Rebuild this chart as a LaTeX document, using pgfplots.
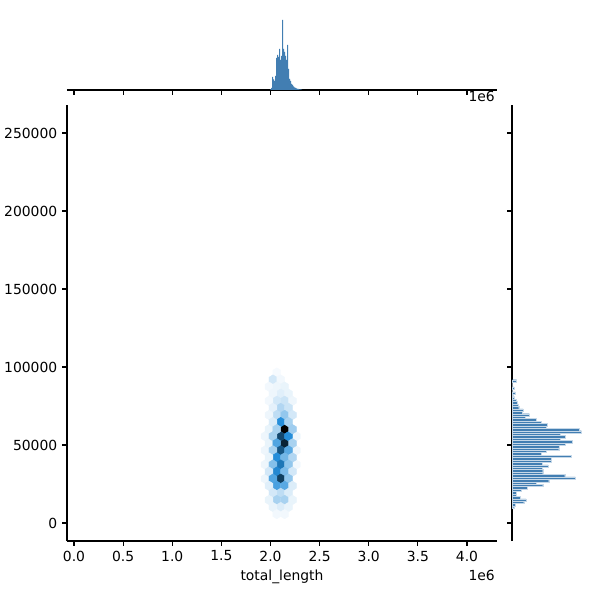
\documentclass[border=0pt]{standalone}
\usepackage{fontspec}
\setmainfont{DejaVu Sans}
\usepackage{pgfplots}
\pgfplotsset{compat=1.18}

\definecolor{histblue}{RGB}{66,126,178}
\pgfplotsset{colormap={hexblues}{rgb=(1,1,1) rgb=(0.829,0.911,0.971) rgb=(0.658,0.823,0.942) rgb=(0.487,0.734,0.913) rgb=(0.316,0.645,0.884) rgb=(0.145,0.555,0.855) rgb=(0.116,0.445,0.684) rgb=(0.087,0.334,0.513) rgb=(0.058,0.223,0.342) rgb=(0.029,0.111,0.171) rgb=(0,0,0)}}

\pgfdeclareplotmark{hexa}{%
  \pgfpathmoveto{\pgfqpoint{2.815pt}{-1.70pt}}%
  \pgfpathlineto{\pgfqpoint{2.815pt}{1.70pt}}%
  \pgfpathlineto{\pgfqpoint{0pt}{3.40pt}}%
  \pgfpathlineto{\pgfqpoint{-2.815pt}{1.70pt}}%
  \pgfpathlineto{\pgfqpoint{-2.815pt}{-1.70pt}}%
  \pgfpathlineto{\pgfqpoint{0pt}{-3.40pt}}%
  \pgfpathclose\pgfusepathqfillstroke}

\pgfplotsset{
  mpl/.style={
    scale only axis,
    anchor=south west,
    axis line style={line width=0.8pt, black},
    tick style={line width=0.8pt, black},
    major tick length=3.5pt,
    tick align=outside,
    ticklabel style={font=\fontsize{10}{12}\selectfont},
    /pgf/number format/assume math mode=true,
    scaled x ticks=false, scaled y ticks=false,
  }
}

\begin{document}
\begin{tikzpicture}
\useasboundingbox (0pt,0pt) rectangle (432pt,432pt);

% main hexbin axis
\begin{axis}[mpl,
  at={(48.24pt,42.48pt)}, width=309.6pt, height=313.92pt,
  xmin=-0.0712, xmax=4.305, ymin=-11538, ymax=267949,
  axis x line*=bottom, axis y line*=left,
  xtick={0,0.5,1,1.5,2,2.5,3,3.5,4},
  xticklabel style={/pgf/number format/.cd, fixed, fixed zerofill, precision=1},
  ytick={0,50000,100000,150000,200000,250000},
  yticklabel style={/pgf/number format/.cd, fixed, 1000 sep={}},
  xlabel={total\_length},
  xlabel style={at={(rel axis cs:0.5,0)}, anchor=base, yshift=-28.4pt, font=\fontsize{10}{12}\selectfont},
  colormap name=hexblues, point meta min=0, point meta max=100,
  clip=false,
]
\addplot[scatter, only marks, mark=hexa, point meta=explicit,
  scatter/use mapped color={draw=mapped color, fill=mapped color},
  mark options={line width=0.3pt}] table[meta=c] {
x y c
1.9446 55628 4
1.9446 46551 4
1.9446 37474 4
1.9446 28397 4
2.2630 55628 4
2.2630 46551 4
2.2630 37474 3
1.9844 60166 5
1.9844 51089 5
2.0640 96474 2
2.0242 91936 10
2.1038 91936 3
2.0640 87397 4
2.1436 87397 5
1.9844 87397 3
2.1038 82859 7
2.0242 82859 4
2.1834 82859 5
2.0640 78320 10
2.1436 78320 12
1.9844 78320 3
2.2232 78320 4
2.1038 73782 18
2.1834 73782 12
2.0242 73782 6
2.0640 69243 15
2.1436 69243 25
2.2232 69243 10
1.9844 69243 4
2.1436 60166 100
2.1436 51089 88
2.1038 55628 75
2.1834 55628 50
2.1038 64705 50
2.1834 64705 20
2.0242 64705 8
2.0640 60166 20
2.2232 60166 22
2.0242 55628 20
2.0640 51089 40
2.2232 51089 20
2.1038 46551 70
2.1834 46551 38
2.0242 46551 20
2.0640 42012 50
2.1436 42012 32
2.2232 42012 18
1.9844 42012 5
2.1038 37474 58
2.0242 37474 28
2.1834 37474 25
2.0640 32935 52
2.1436 32935 30
1.9844 32935 10
2.2232 32935 10
2.1038 28397 78
2.0242 28397 40
2.1834 28397 25
2.0640 23858 42
2.1436 23858 38
1.9844 23858 7
2.2232 23858 8
2.1038 19320 15
2.0242 19320 10
2.1834 19320 8
2.0640 14781 20
2.1436 14781 20
1.9844 14781 5
2.2232 14781 5
2.1038 10243 8
2.0242 10243 5
2.1834 10243 5
2.0640 5704 3
2.1436 5704 3
};
\node[anchor=base east, inner sep=0pt, font=\fontsize{10}{12}\selectfont] at (rel axis cs:1,0) [yshift=-28.1pt, xshift=-1.4pt] {1e6};
\end{axis}

% top marginal histogram
\begin{axis}[mpl,
  at={(48.24pt,367.2pt)}, width=309.6pt, height=54pt,
  xmin=-0.0712, xmax=4.305, ymin=0, ymax=75,
  axis x line*=bottom, axis y line=none,
  xtick={0,0.5,1,1.5,2,2.5,3,3.5,4}, xticklabels={},
  clip=false,
]
\addplot[ybar interval, fill=histblue, draw=none] coordinates {
(1.9949,0.7) (2.0051,2) (2.0153,13) (2.0254,10.7) (2.0356,9) (2.0458,14)
(2.0560,32) (2.0662,35) (2.0763,33) (2.0865,41) (2.0967,30) (2.1069,34)
(2.1170,70) (2.1272,41) (2.1374,38) (2.1476,34) (2.1578,30) (2.1679,45)
(2.1781,21) (2.1883,11) (2.1985,9) (2.2087,6) (2.2188,5) (2.2290,3.5)
(2.2392,2.5) (2.2494,2) (2.2595,1.5) (2.2697,1) (2.2799,1) (2.2901,0.6)
(2.3003,0.5) (2.3104,0.4) (2.3206,0)
};
\node[anchor=base east, inner sep=0pt, font=\fontsize{10}{12}\selectfont] at (rel axis cs:1,0) [yshift=-8.6pt, xshift=-1.4pt] {1e6};
\end{axis}

% right marginal histogram
\begin{axis}[mpl,
  at={(368.64pt,42.48pt)}, width=53.28pt, height=313.92pt,
  xmin=0, xmax=74, ymin=-11538, ymax=267949,
  axis y line*=left, axis x line=none,
  ytick={0,50000,100000,150000,200000,250000}, yticklabels={},
]
\addplot[xbar interval, fill=histblue, draw=white!70!histblue, line width=0.25pt] coordinates {
(1.7,9295) (3.3,10853) (11.7,12411) (14,13969) (8.3,15527) (4,17085)
(4,18643) (9.3,20201) (15,21759) (30.7,23317) (24,24875) (36.7,26433)
(63.3,27991) (52.7,29549) (30.7,31107) (30.7,32665) (30,34223) (36,35781)
(30,37339) (39.3,38897) (39.3,40455) (59.3,42013) (29.3,43571) (34,45129)
(46.7,46687) (47.3,48245) (53.3,49803) (60,51361) (48.3,52919) (53.3,54477)
(48.3,56035) (69.3,57593) (67.3,59151) (34,60709) (35,62267) (29.3,63825)
(24.3,65383) (13.3,66941) (17.3,68499) (10,70057) (11,71615) (6.7,73173)
(6,74731) (5.3,76289) (4.3,77847) (2.5,79405) (0.8,80963) (3.3,82521)
(0,84079) (2,85637) (0,87195) (0,88753) (4.5,90311) (0,91869)
};
\end{axis}
\end{tikzpicture}
\end{document}
